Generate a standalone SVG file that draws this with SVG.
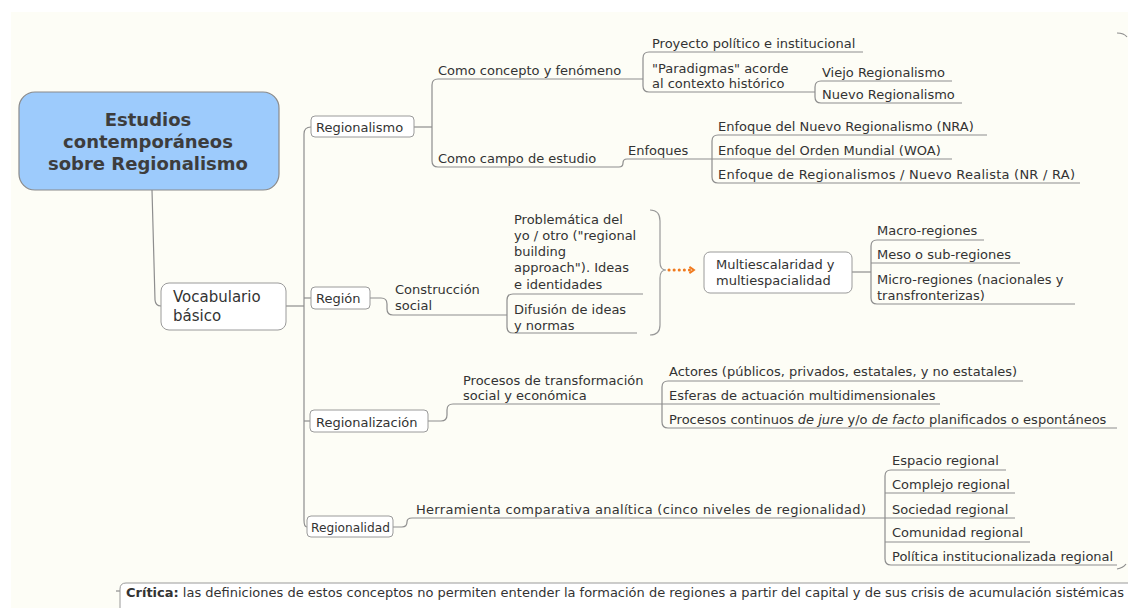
<svg xmlns="http://www.w3.org/2000/svg" width="1128" height="608" viewBox="0 0 1128 608">
<style>
text{font-family:"DejaVu Sans","Liberation Sans",sans-serif;font-size:13px;fill:#333}
.rt{font-weight:bold;font-size:18px;fill:#3d3d3d;text-anchor:middle}
.big{font-size:15px}
.box{fill:#fff;stroke:#9a9a9a;stroke-width:1}
.c{fill:none;stroke:#8e8e8e;stroke-width:1.2}
.i{font-style:italic}
.b{font-weight:bold}
</style>
<defs>
<marker id="arr" viewBox="0 0 10 10" refX="6" refY="5" markerWidth="9" markerHeight="9" orient="auto" markerUnits="userSpaceOnUse">
<path d="M2,1.5 L7,5 L2,8.5" fill="none" stroke="#f07a1e" stroke-width="2.2"/>
</marker>
</defs>
<rect x="0" y="0" width="1128" height="608" fill="#ffffff"/>
<rect x="11" y="12" width="1117" height="596" fill="#fdfdf6"/>

<g id="connectors">
<path class="c" d="M152,190 L155,300 Q155.5,306 161,306"/>
<path class="c" d="M286,306 L304,306"/>
<path class="c" d="M311,127 Q304,127 304,134 L304,520 Q304,527 307,527"/>
<path class="c" d="M304,298 L311,298"/>
<path class="c" d="M304,421 L310,421"/>
<path class="c" d="M414,127 L432,127"/>
<path class="c" d="M438,79 Q432,79 432,85 L432,161 Q432,167 438,167"/>
<path class="c" d="M438,79 L643,79"/>
<path class="c" d="M649,52 Q643,52 643,58 L643,86 Q643,92 649,92"/>
<path class="c" d="M649,52 L863,52"/>
<path class="c" d="M649,92 L815,92"/>
<path class="c" d="M821,81 Q815,81 815,87 L815,97 Q815,103 821,103"/>
<path class="c" d="M821,81 L952,81"/>
<path class="c" d="M821,103 L962,103"/>
<path class="c" d="M438,167 L619,167 Q623,167 623,163 Q623,159 627,159 L712,159"/>
<path class="c" d="M718,135 Q712,135 712,141 L712,177 Q712,183 718,183"/>
<path class="c" d="M718,135 L987,135"/>
<path class="c" d="M712,159 L952,159"/>
<path class="c" d="M718,183 L1080,183"/>
<path class="c" d="M370,298 L381,298 Q387,298 387,304 L387,309 Q387,315 393,315 L507,315"/>
<path class="c" d="M513,294 Q507,294 507,300 L507,327 Q507,333 513,333"/>
<path class="c" d="M513,294 L643,294"/>
<path class="c" d="M513,333 L637,333"/>
<path fill="none" stroke="#9a9a9a" stroke-width="1.2" d="M650,210 Q660,210 660,221 L660,262 Q660,270 666,270 Q660,270 660,278 L660,325 Q660,335 650,335"/>
<path fill="none" stroke="#f07a1e" stroke-width="3" stroke-linecap="round" stroke-dasharray="0.1,5" d="M669,270 L693,270" marker-end="url(#arr)"/>
<path class="c" d="M852,272 L871,272"/>
<path class="c" d="M877,240 Q871,240 871,246 L871,298 Q871,304 877,304"/>
<path class="c" d="M877,240 L984,240"/>
<path class="c" d="M871,263 L1020,263"/>
<path class="c" d="M877,304 L1075,304"/>
<path class="c" d="M428,421 L441,421 Q447,421 447,415 L447,410 Q447,404 453,404 L662,404"/>
<path class="c" d="M668,381 Q662,381 662,387 L662,422 Q662,428 668,428"/>
<path class="c" d="M668,381 L1023,381"/>
<path class="c" d="M662,404 L940,404"/>
<path class="c" d="M668,428 L1117,428"/>
<path class="c" d="M393,527 L402,527 Q407,527 407,522 Q407,518 412,518 L885,518"/>
<path class="c" d="M891,470 Q885,470 885,476 L885,559 Q885,565 891,565"/>
<path class="c" d="M891,470 L1006,470"/>
<path class="c" d="M885,493 L1015,493"/>
<path class="c" d="M885,518 L1015,518"/>
<path class="c" d="M885,542 L1030,542"/>
<path class="c" d="M891,565 L1117,565"/>
<path class="c" d="M1117,33 Q1124,33 1127,37"/>
<path class="c" d="M1117,569 Q1123,568 1126,564"/>
<path class="c" d="M116,591 L120,591"/>
</g>

<g id="root">
<rect x="19" y="92" width="260" height="98" rx="16" fill="#9dcbfc" stroke="#8a8a8a" stroke-width="1.2"/>
<text class="rt" x="148" y="126">Estudios</text>
<text class="rt" x="148" y="148">contemporáneos</text>
<text class="rt" x="148" y="170">sobre Regionalismo</text>
</g>
<g id="vocabulario">
<rect class="box" x="161" y="283" width="125" height="47" rx="8"/>
<text class="big" x="173" y="302">Vocabulario</text>
<text class="big" x="173" y="321">básico</text>
</g>

<g id="regionalismo">
<rect class="box" x="311" y="116" width="103" height="21" rx="4"/>
<text x="316" y="132">Regionalismo</text>
</g>
<g id="como-concepto"><text x="438" y="74.5">Como concepto y fenómeno</text></g>
<g id="proyecto"><text x="652" y="47.5">Proyecto político e institucional</text></g>
<g id="paradigmas"><text x="652" y="72.5">"Paradigmas" acorde</text><text x="652" y="87.5">al contexto histórico</text></g>
<g id="viejo"><text x="822" y="76.5">Viejo Regionalismo</text></g>
<g id="nuevo"><text x="822" y="99">Nuevo Regionalismo</text></g>
<g id="como-campo"><text x="438" y="162.5">Como campo de estudio</text></g>
<g id="enfoques"><text x="628" y="154.5">Enfoques</text></g>
<g id="nra"><text x="718" y="130.5">Enfoque del Nuevo Regionalismo (NRA)</text></g>
<g id="woa"><text x="718" y="154.5">Enfoque del Orden Mundial (WOA)</text></g>
<g id="nrra"><text x="718" y="178.5" textLength="357" lengthAdjust="spacing">Enfoque de Regionalismos / Nuevo Realista (NR / RA)</text></g>

<g id="region">
<rect class="box" x="311" y="287" width="59" height="22" rx="4"/>
<text x="316" y="303">Región</text>
</g>
<g id="construccion"><text x="395" y="294">Construcción</text><text x="395" y="310">social</text></g>
<g id="problematica">
<text x="514" y="224">Problemática del</text>
<text x="514" y="240">yo / otro ("regional</text>
<text x="514" y="256">building</text>
<text x="514" y="272">approach"). Ideas</text>
<text x="514" y="289">e identidades</text>
</g>
<g id="difusion"><text x="514" y="313.5">Difusión de ideas</text><text x="514" y="330">y normas</text></g>
<g id="multi">
<rect class="box" x="704" y="252" width="148" height="41" rx="6"/>
<text x="716" y="268.5">Multiescalaridad y</text>
<text x="716" y="285">multiespacialidad</text>
</g>
<g id="macro"><text x="877" y="235">Macro-regiones</text></g>
<g id="meso"><text x="877" y="259">Meso o sub-regiones</text></g>
<g id="micro"><text x="877" y="284">Micro-regiones (nacionales y</text><text x="877" y="300">transfronterizas)</text></g>

<g id="regionalizacion">
<rect class="box" x="310" y="410" width="118" height="22" rx="4"/>
<text x="316" y="426.5">Regionalización</text>
</g>
<g id="procesos-transf"><text x="463" y="384.5">Procesos de transformación</text><text x="463" y="400">social y económica</text></g>
<g id="actores"><text x="669" y="376">Actores (públicos, privados, estatales, y no estatales)</text></g>
<g id="esferas"><text x="669" y="399.5">Esferas de actuación multidimensionales</text></g>
<g id="procesos-cont"><text x="669" y="423.5">Procesos continuos <tspan class="i">de jure</tspan> y/o <tspan class="i">de facto</tspan> planificados o espontáneos</text></g>

<g id="regionalidad">
<rect class="box" x="307" y="516" width="86" height="21" rx="4"/>
<text x="311" y="531.5" style="font-size:12.2px">Regionalidad</text>
</g>
<g id="herramienta"><text x="416" y="514" textLength="450" lengthAdjust="spacing">Herramienta comparativa analítica (cinco niveles de regionalidad)</text></g>
<g id="espacio"><text x="892" y="465">Espacio regional</text></g>
<g id="complejo"><text x="892" y="488.5">Complejo regional</text></g>
<g id="sociedad"><text x="892" y="513.5">Sociedad regional</text></g>
<g id="comunidad"><text x="892" y="537">Comunidad regional</text></g>
<g id="politica"><text x="892" y="560.5">Política institucionalizada regional</text></g>

<g id="critica">
<path d="M120,610 L120,589 Q120,583 126,583 L1130,583 L1130,610 Z" fill="#fff" stroke="#9a9a9a" stroke-width="1"/>
<text x="126" y="597" textLength="998" lengthAdjust="spacingAndGlyphs" style="font-size:12.5px"><tspan class="b">Crítica:</tspan> las definiciones de estos conceptos no permiten entender la formación de regiones a partir del capital y de sus crisis de acumulación sistémicas</text>
</g>
</svg>
